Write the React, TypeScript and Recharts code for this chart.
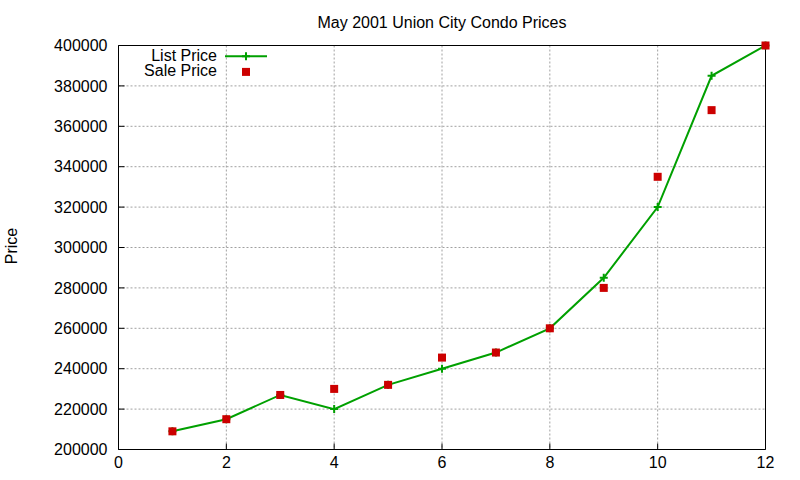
import {
  ComposedChart,
  Line,
  XAxis,
  YAxis,
  CartesianGrid,
  Legend,
} from 'recharts';

const lotNumbers = [1, 2, 3, 4, 5, 6, 7, 8, 9, 10, 11, 12];
const listPrices = [209000, 215000, 227000, 220000, 232000, 240000, 248000, 260000, 285000, 320000, 385000, 400000];
const salePrices = [209000, 215000, 227000, 230000, 232000, 245500, 248000, 260000, 280000, 335000, 368000, 400000];
const xTicks = [0, 2, 4, 6, 8, 10, 12];
const yTicks = [200000, 220000, 240000, 260000, 280000, 300000, 320000, 340000, 360000, 380000, 400000];

const GREEN = '#00a000';
const RED = '#cc0000';
const FONT = '"Liberation Sans", Arial, sans-serif';

const chartData = lotNumbers.map((x, i) => ({
  x,
  list: listPrices[i],
  sale: salePrices[i],
}));

function PlusMark({ cx, cy }: { cx: number; cy: number }) {
  return (
    <path
      d={`M${cx - 4},${cy}H${cx + 4}M${cx},${cy - 4}V${cy + 4}`}
      stroke={GREEN}
      strokeWidth={2}
      fill="none"
    />
  );
}

const renderListDot = (props: any) => (
  <PlusMark key={`list-${props.index}`} cx={props.cx} cy={props.cy} />
);

const renderSaleDot = (props: any) => (
  <rect
    key={`sale-${props.index}`}
    x={props.cx - 4}
    y={props.cy - 4}
    width={8}
    height={8}
    fill={RED}
  />
);

const renderLegend = (props: any) => {
  const entries = props.payload ?? [];
  return (
    <svg width={150} height={40} style={{ display: 'block' }}>
      {entries.map((entry: any, i: number) => {
        const y = 12.3 + i * 15.6;
        return (
          <g key={entry.value}>
            <text
              x={77}
              y={y + 4.3}
              textAnchor="end"
              fontSize={16}
              fontFamily={FONT}
              fill="#000"
            >
              {entry.value}
            </text>
            {entry.dataKey === 'list' ? (
              <g>
                <line x1={85} x2={127} y1={y} y2={y} stroke={GREEN} strokeWidth={2} />
                <PlusMark cx={106} cy={y} />
              </g>
            ) : (
              <rect x={102} y={y - 4} width={8} height={8} fill={RED} />
            )}
          </g>
        );
      })}
    </svg>
  );
};

export default function App() {
  const tickStyle = { fontSize: 16, fill: '#000', fontFamily: FONT };
  return (
    <div
      style={{
        position: 'absolute',
        left: 0,
        top: 0,
        width: 800,
        height: 480,
        background: '#fff',
        fontFamily: FONT,
      }}
    >
      <div
        style={{
          position: 'absolute',
          left: 118.5,
          width: 647,
          top: 15,
          fontSize: 16,
          lineHeight: '16px',
          textAlign: 'center',
          color: '#000',
        }}
      >
        May 2001 Union City Condo Prices
      </div>
      <div
        style={{
          position: 'absolute',
          left: 11.5,
          top: 246,
          fontSize: 16,
          lineHeight: '16px',
          color: '#000',
          transform: 'translate(-50%, -50%) rotate(-90deg)',
          whiteSpace: 'nowrap',
        }}
      >
        Price
      </div>
      <ComposedChart
        width={800}
        height={480}
        data={chartData}
        margin={{ top: 44.5, right: 33.5, bottom: 0, left: 0 }}
      >
        <CartesianGrid stroke="#a0a0a0" strokeDasharray="2 2" />
        <XAxis
          dataKey="x"
          type="number"
          domain={[0, 12]}
          ticks={xTicks}
          height={30.5}
          tick={tickStyle}
          tickSize={-6}
          tickMargin={13}
          axisLine={{ stroke: '#000' }}
          tickLine={{ stroke: '#000' }}
        />
        <XAxis
          xAxisId="top"
          orientation="top"
          dataKey="x"
          type="number"
          domain={[0, 12]}
          ticks={xTicks}
          height={1}
          tick={false}
          tickSize={-6}
          axisLine={{ stroke: '#000' }}
          tickLine={{ stroke: '#000' }}
        />
        <YAxis
          type="number"
          domain={[200000, 400000]}
          ticks={yTicks}
          width={118.5}
          tick={tickStyle}
          tickSize={-6}
          tickMargin={17}
          axisLine={{ stroke: '#000' }}
          tickLine={{ stroke: '#000' }}
        />
        <YAxis
          yAxisId="right"
          orientation="right"
          type="number"
          domain={[200000, 400000]}
          ticks={yTicks}
          width={1}
          tick={false}
          tickSize={-6}
          axisLine={{ stroke: '#000' }}
          tickLine={{ stroke: '#000' }}
        />
        <Legend
          layout="vertical"
          align="center"
          verticalAlign="middle"
          wrapperStyle={{ left: 140, top: 44, width: 150, height: 40 }}
          content={renderLegend}
        />
        <Line
          type="linear"
          dataKey="list"
          name="List Price"
          stroke={GREEN}
          strokeWidth={2}
          dot={renderListDot}
          activeDot={false}
          isAnimationActive={false}
        />
        <Line
          type="linear"
          dataKey="sale"
          name="Sale Price"
          stroke="none"
          dot={renderSaleDot}
          activeDot={false}
          isAnimationActive={false}
        />
      </ComposedChart>
    </div>
  );
}
